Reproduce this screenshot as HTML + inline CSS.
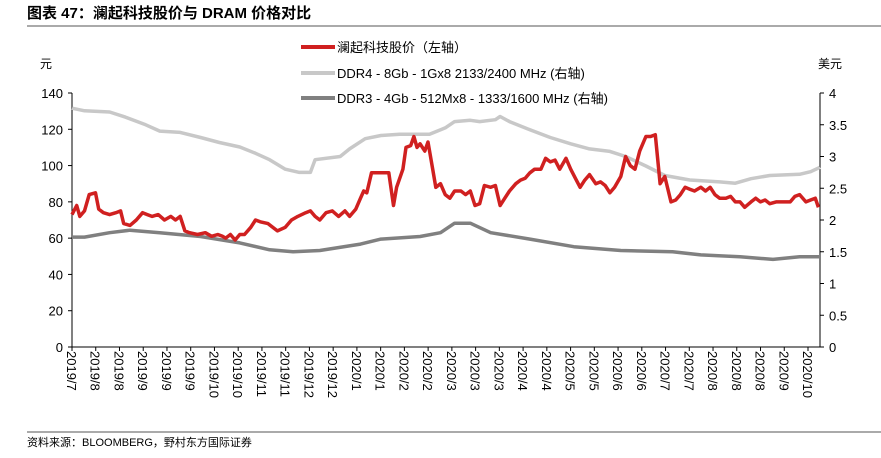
<!DOCTYPE html>
<html><head><meta charset="utf-8">
<style>
body{margin:0;background:#fff;width:881px;height:458px;overflow:hidden;font-family:"Liberation Sans","Noto Sans CJK SC",sans-serif;}
svg{display:block}
</style></head>
<body>
<svg id="chart" width="881" height="458" xmlns="http://www.w3.org/2000/svg" font-family="'Liberation Sans','Noto Sans CJK SC',sans-serif">
<text x="27" y="18" font-size="15" font-weight="bold" fill="#000">图表 47：澜起科技股价与 DRAM 价格对比</text>
<line x1="27" y1="26" x2="881" y2="26" stroke="#555" stroke-width="1"/>
<text x="40" y="68" font-size="12">元</text>
<text x="818" y="68" font-size="12">美元</text>
<g>
 <g><line x1="301" y1="47" x2="335" y2="47" stroke="#d02020" stroke-width="4"/><text x="337" y="52" font-size="13">澜起科技股价（左轴）</text></g>
 <g><line x1="301" y1="73" x2="335" y2="73" stroke="#c8c8c8" stroke-width="4"/><text x="337" y="78" font-size="13">DDR4 - 8Gb - 1Gx8 2133/2400 MHz (右轴)</text></g>
 <g><line x1="301" y1="98" x2="335" y2="98" stroke="#808080" stroke-width="4"/><text x="337" y="103" font-size="13">DDR3 - 4Gb - 512Mx8 - 1333/1600 MHz (右轴)</text></g>
</g>
<g id="axes"></g>
<g id="series"></g>
<line x1="27" y1="432" x2="881" y2="432" stroke="#555" stroke-width="1"/>
<text x="27" y="446" font-size="11">资料来源：BLOOMBERG，野村东方国际证券</text>
</svg>
<script>
const xLabels=["2019/7","2019/8","2019/8","2019/9","2019/9","2019/9","2019/10","2019/10","2019/11","2019/11","2019/12","2019/12","2020/1","2020/1","2020/2","2020/2","2020/3","2020/3","2020/3","2020/4","2020/4","2020/5","2020/5","2020/6","2020/6","2020/7","2020/7","2020/8","2020/8","2020/8","2020/9","2020/10"];
const leftTicks=[0,20,40,60,80,100,120,140];
const rightTicks=[0,0.5,1,1.5,2,2.5,3,3.5,4];
const stockDays=[0,3,5,8,11,15,17,20,24,28,31,33,37,41,45,48,51,55,59,63,66,69,72,75,80,85,89,93,96,98,101,104,107,110,114,117,120,125,128,131,136,140,144,149,152,155,158,162,166,170,174,177,181,184,186,188,191,197,202,205,207,211,213,216,218,220,222,225,227,230,232,235,238,241,244,248,251,254,257,260,263,267,270,273,276,279,283,286,289,292,295,299,302,305,308,311,315,318,321,324,327,330,334,337,340,343,346,350,353,356,359,362,366,369,372,375,378,382,385,388,391,394,397,401,404,407,410,413,417,420,423,426,429,433,436,439,442,445,449,452,455,458,461,464,468,471,474,476];
const stockValues=[73,78,72,75,84,85,76,74,73,74,75,68,67,70,74,73,72,73,70,72,70,72,64,63,62,63,61,62,61,60,62,59,62,62,66,70,69,68,66,64,66,70,72,74,75,72,70,74,75,72,75,72,76,82,86,85,96,96,96,78,88,98,110,111,116,110,112,108,113,98,88,90,84,82,86,86,84,86,78,79,89,88,89,78,82,86,90,92,93,96,98,98,104,102,103,98,104,98,93,88,92,95,90,91,89,85,88,94,105,100,98,108,116,116,117,90,94,80,81,84,88,87,86,88,86,88,84,82,82,83,80,80,77,80,82,80,81,79,80,80,80,80,83,84,80,81,82,77];
const ddr4Days=[0,8,24,34,47,56,69,82,94,107,117,126,136,145,152,155,171,177,187,197,209,228,238,244,254,260,270,273,279,292,305,318,330,343,353,366,378,394,413,423,433,445,464,471,477];
const ddr4Values=[3.76,3.72,3.7,3.62,3.5,3.4,3.38,3.3,3.22,3.15,3.05,2.95,2.8,2.75,2.75,2.95,3.0,3.12,3.28,3.33,3.35,3.35,3.45,3.55,3.57,3.55,3.58,3.63,3.55,3.42,3.3,3.2,3.12,3.08,3.0,2.85,2.7,2.63,2.6,2.58,2.65,2.7,2.72,2.76,2.83];
const ddr3Days=[0,8,24,37,56,82,107,126,141,158,184,197,222,235,244,254,267,292,320,350,383,401,426,447,464,477];
const ddr3Values=[1.73,1.73,1.8,1.84,1.8,1.74,1.64,1.53,1.5,1.52,1.62,1.7,1.74,1.8,1.95,1.95,1.8,1.7,1.58,1.52,1.5,1.45,1.42,1.38,1.42,1.42];

const NS="http://www.w3.org/2000/svg";
const X0=72,X1=820,Y0=347,Y1=93,DMAX=477;
const xDay=d=>X0+d/DMAX*(X1-X0);
const yL=v=>Y0-v/140*(Y0-Y1);
const yR=v=>Y0-v/4*(Y0-Y1);
function mk(tag,attrs,parent){const e=document.createElementNS(NS,tag);for(const k in attrs)e.setAttribute(k,attrs[k]);parent.appendChild(e);return e;}
const ax=document.getElementById('axes');
let e;
e=mk('line',{x1:X0,y1:Y1,x2:X0,y2:Y0,stroke:'#000'},ax);


e=mk('line',{x1:X1,y1:Y1,x2:X1,y2:Y0,stroke:'#000'},ax);


e=mk('line',{x1:X0,y1:Y0,x2:X1,y2:Y0,stroke:'#000'},ax);


leftTicks.forEach(v=>{const y=yL(v);mk('line',{x1:X0-4,y1:y,x2:X0,y2:y,stroke:'#000'},ax);
 const t=mk('text',{x:X0-9,y:y+5,'font-size':13,'text-anchor':'end'},ax);t.textContent=v;
 
 });
rightTicks.forEach(v=>{const y=yR(v);mk('line',{x1:X1,y1:y,x2:X1+4,y2:y,stroke:'#000'},ax);
 const t=mk('text',{x:X1+9,y:y+5,'font-size':13},ax);t.textContent=v;
 
 });
const step=(808-72)/(xLabels.length-1);
xLabels.forEach((l,i)=>{const x=X0+i*step;mk('line',{x1:x,y1:Y0,x2:x,y2:Y0+4,stroke:'#000'},ax);
 const t=mk('text',{x:0,y:0,'font-size':13,transform:`translate(${x-5},${Y0+4}) rotate(90)`},ax);t.textContent=l;
 
 });
const sg=document.getElementById('series');
function line(days,vals,yf,color,name){const p=days.map((d,i)=>`${i?'L':'M'}${xDay(d).toFixed(1)},${yf(vals[i]).toFixed(1)}`).join('');
 const el=mk('path',{d:p,fill:'none',stroke:color,'stroke-width':3.5,'stroke-linejoin':'round'},sg);
 
 }
line(ddr4Days,ddr4Values,yR,'#c8c8c8','ddr4-price-line');
line(ddr3Days,ddr3Values,yR,'#808080','ddr3-price-line');
line(stockDays,stockValues,yL,'#d02020','stock-price-line');
</script>
</body></html>
